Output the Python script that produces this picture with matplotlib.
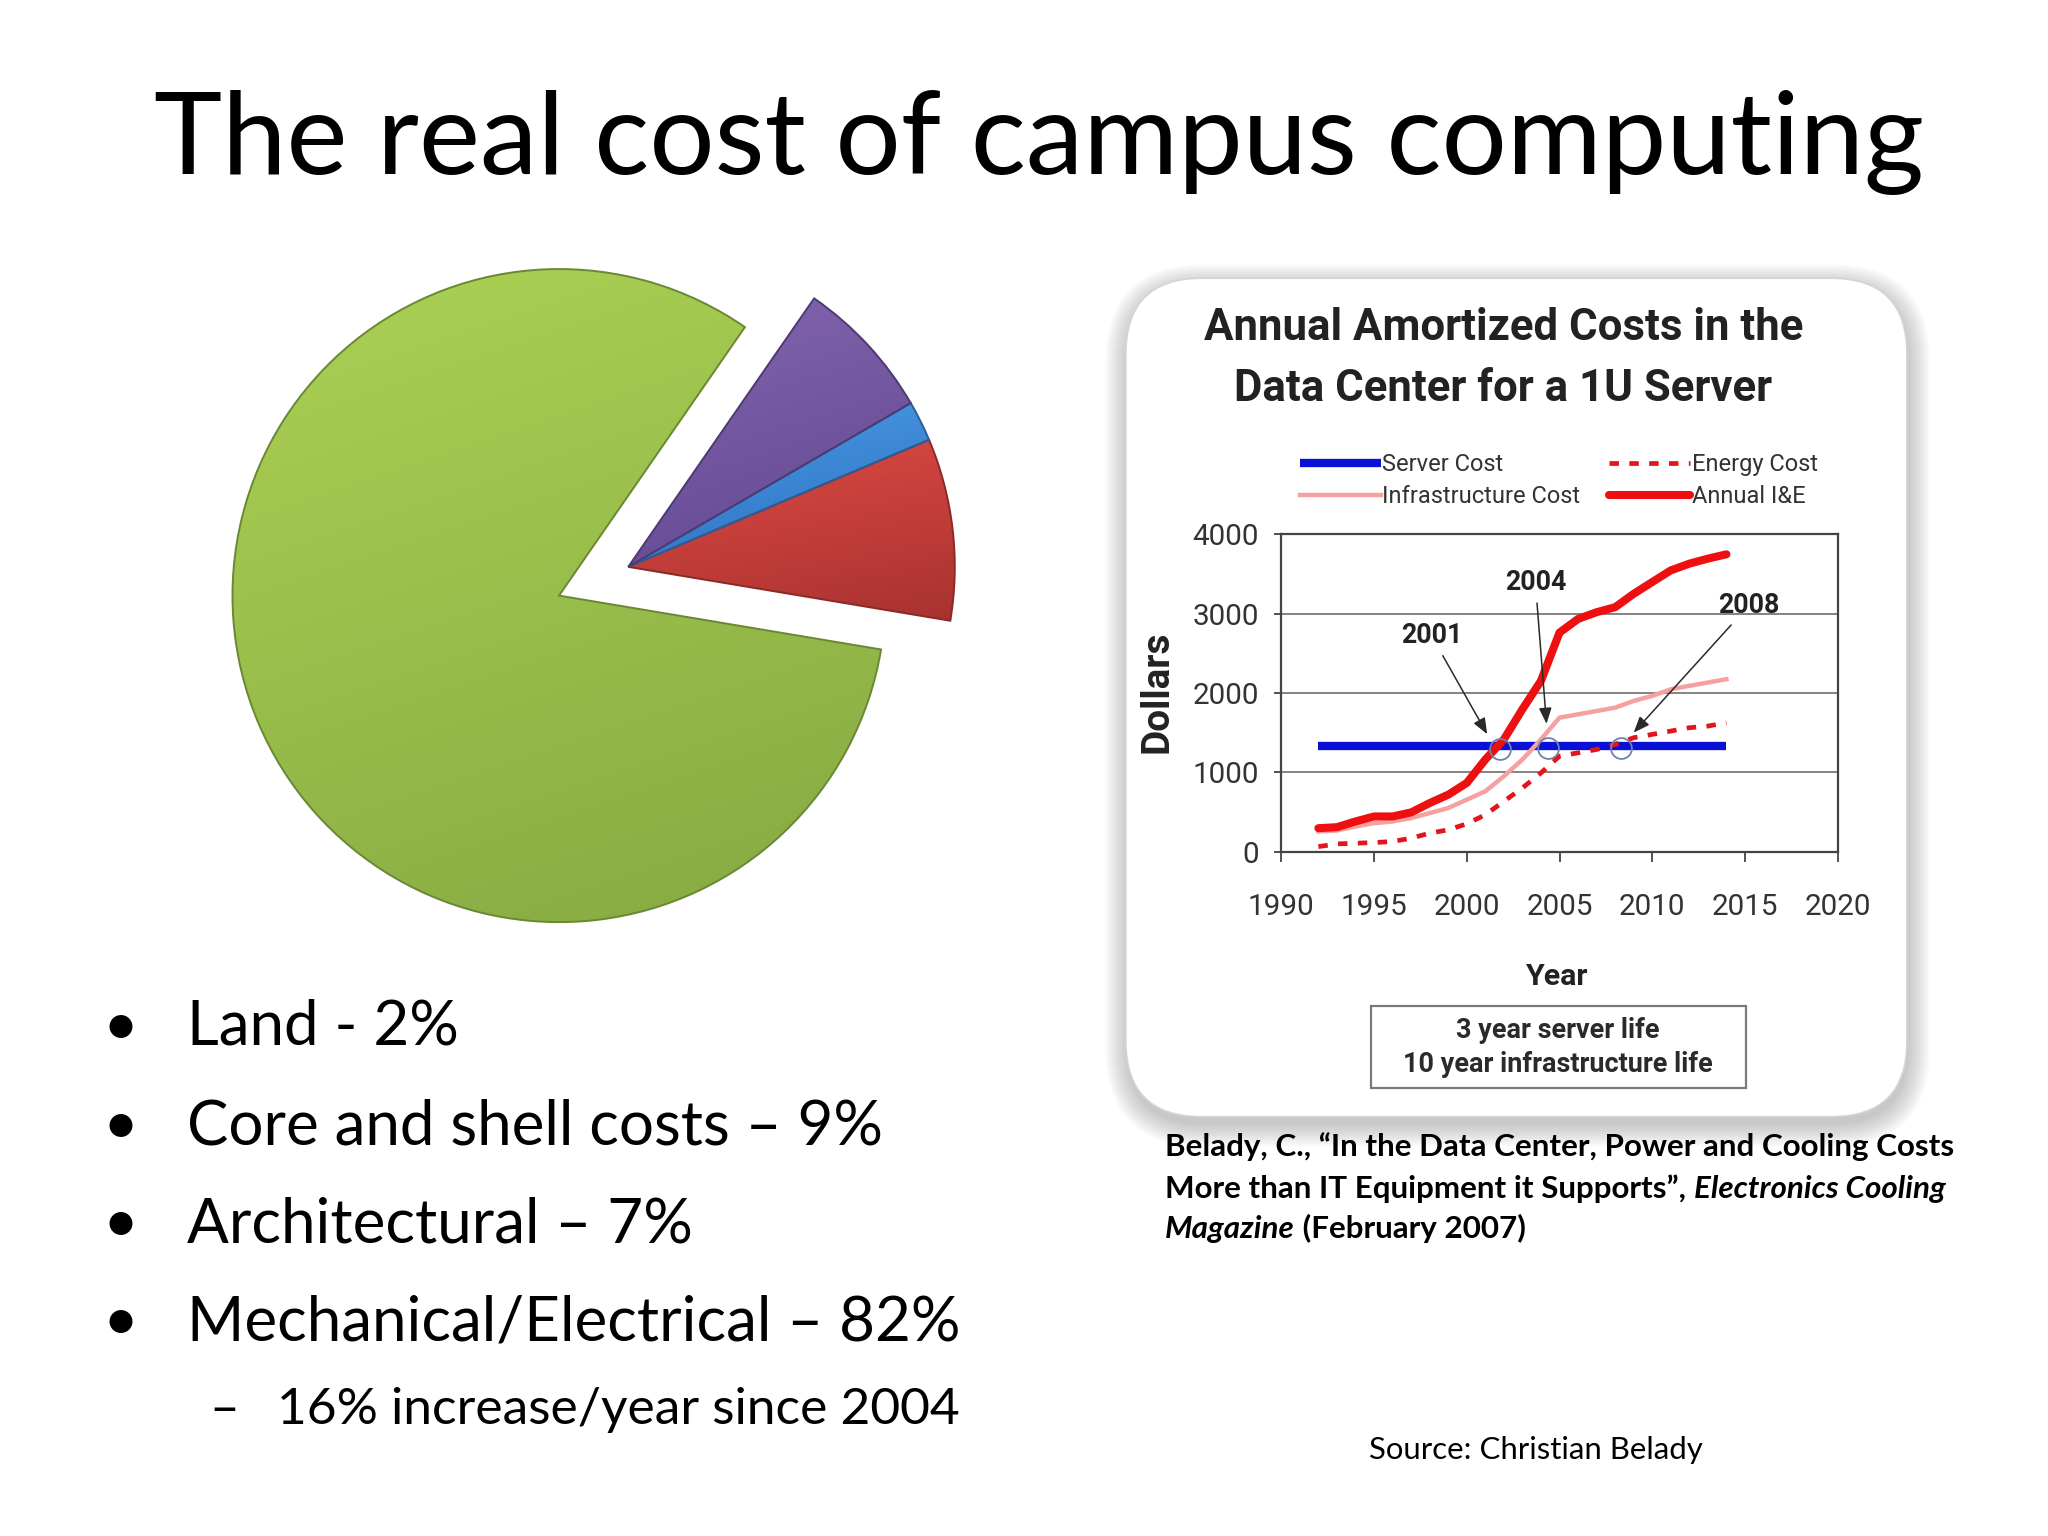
import numpy as np
import matplotlib
matplotlib.use("Agg")
import matplotlib.pyplot as plt
from matplotlib import font_manager
from matplotlib.patches import FancyBboxPatch, Rectangle
from matplotlib.colors import LinearSegmentedColormap

# ---------------- data ----------------
slide_title = "The real cost of campus computing"

pie_labels = ["Core and shell costs", "Land", "Architectural", "Mechanical/Electrical"]
pie_shares = [9, 2, 7, 82]
pie_top_colors = ["#DE4A44", "#4A9AE6", "#8466B0", "#ABD254"]
pie_bottom_colors = ["#A83230", "#2C70C0", "#624690", "#86A942"]
pie_edge_colors = ["#8A2A26", "#2A5E9A", "#4C3A70", "#6A8834"]

bullets = ["Land - 2%", "Core and shell costs \u2013 9%", "Architectural \u2013 7%",
           "Mechanical/Electrical \u2013 82%"]
sub_bullet = "16% increase/year since 2004"

chart_title = ["Annual Amortized Costs in the", "Data Center for a 1U Server"]
series_labels = ["Server Cost", "Infrastructure Cost", "Energy Cost", "Annual I&E"]

years = [1992, 1993, 1994, 1995, 1996, 1997, 1998, 1999, 2000, 2001, 2002, 2003,
         2004, 2005, 2006, 2007, 2008, 2009, 2010, 2011, 2012, 2013, 2014]
server_cost = [1330, 1330, 1330, 1330, 1330, 1330, 1330, 1330, 1330, 1330, 1330, 1330,
               1330, 1330, 1330, 1330, 1330, 1330, 1330, 1330, 1330, 1330, 1330]
infrastructure_cost = [253, 266, 316, 358, 380, 422, 485, 549, 654, 760, 950, 1160,
                       1414, 1688, 1730, 1772, 1814, 1899, 1962, 2046, 2089, 2131, 2173]
energy_cost = [63, 97, 105, 114, 127, 169, 232, 274, 350, 464, 633, 802,
               992, 1203, 1245, 1287, 1350, 1435, 1477, 1519, 1561, 1582, 1624]
annual_ie = [295, 308, 380, 443, 443, 494, 612, 717, 865, 1160, 1414, 1794,
             2152, 2760, 2932, 3017, 3080, 3249, 3397, 3544, 3629, 3692, 3747]

cross_years = [2001.8, 2004.4, 2008.3]
cross_values = [1290, 1300, 1300]

annot_labels = ["2001", "2004", "2008"]
annot_text_xy = [(1998.1, 2720), (2003.7, 3390), (2015.2, 3100)]
annot_target_xy = [(2001.1, 1480), (2004.3, 1610), (2009.0, 1500)]

x_ticks = [1990, 1995, 2000, 2005, 2010, 2015, 2020]
y_ticks = [0, 1000, 2000, 3000, 4000]

note_lines = ["3 year server life", "10 year infrastructure life"]

cite_line1 = "Belady, C., \u201cIn the Data Center, Power and Cooling Costs"
cite_line2a = "More than IT Equipment it Supports\u201d, "
cite_line2b = "Electronics Cooling"
cite_line3a = "Magazine"
cite_line3b = " (February 2007)"
source_text = "Source: Christian Belady"

# ---------------- fonts ----------------
avail = {f.name for f in font_manager.fontManager.ttflist}
BODY = "Lato" if "Lato" in avail else ("Open Sans" if "Open Sans" in avail else "DejaVu Sans")
if "Liberation Sans Narrow" in avail:
    NARROW = "Liberation Sans Narrow"
elif "Roboto" in avail:
    NARROW = "Roboto"
else:
    NARROW = "DejaVu Sans"

S = 2048 / 1568.0  # reference display units -> output pixels

fig = plt.figure(figsize=(20.48, 15.36), dpi=100)
fig.patch.set_facecolor("white")
renderer = fig.canvas.get_renderer()


def fit_size(s, width_disp, **kw):
    t = fig.text(0, 0, s, fontsize=100, **kw)
    w = t.get_window_extent(renderer=renderer).width
    t.remove()
    return 100.0 * width_disp * S / w


def width_disp(s, **kw):
    t = fig.text(0, 0, s, **kw)
    w = t.get_window_extent(renderer=renderer).width
    t.remove()
    return w / S


# ---------------- background axes (display coordinates) ----------------
bg = fig.add_axes([0, 0, 1, 1], zorder=0)
bg.set_xlim(0, 1568)
bg.set_ylim(1176, 0)
bg.axis("off")

# slide title
fs_title = fit_size(slide_title, 1355, family=BODY)
bg.text(118, 133, slide_title, fontsize=fs_title, family=BODY, ha="left", va="baseline",
        color="black")

# bullets
fs_b = fit_size(bullets[3], 592, family=BODY)
for txt, yb in zip(bullets, [800, 876, 951, 1026]):
    bg.text(143, yb, txt, fontsize=fs_b, family=BODY, ha="left", va="baseline")
    bg.text(92, yb, "\u2022", fontsize=fs_b, family=BODY, ha="center", va="baseline")
fs_sub = fit_size(sub_bullet, 523, family=BODY)
bg.text(212, 1090, sub_bullet, fontsize=fs_sub, family=BODY, ha="left", va="baseline")
bg.text(172, 1090, "\u2013", fontsize=fs_sub, family=BODY, ha="center", va="baseline")

# citation
fs_c = fit_size(cite_line1, 605, family=BODY, weight="bold")
bkw = dict(fontsize=fs_c, family=BODY, weight="bold", ha="left", va="baseline")
ikw = dict(fontsize=fs_c, family=BODY, weight="bold", style="italic", ha="left", va="baseline")
bg.text(892, 885, cite_line1, **bkw)
bg.text(892, 917, cite_line2a, **bkw)
w2 = width_disp(cite_line2a, fontsize=fs_c, family=BODY, weight="bold")
bg.text(892 + w2, 917, cite_line2b, **ikw)
bg.text(892, 948, cite_line3a, **ikw)
w3 = width_disp(cite_line3a, fontsize=fs_c, family=BODY, weight="bold", style="italic")
bg.text(892 + w3, 948, cite_line3b, **bkw)

fs_src = fit_size(source_text, 255, family=BODY)
bg.text(1048, 1117, source_text, fontsize=fs_src, family=BODY, ha="left", va="baseline")

# chart panel with soft shadow
for i in range(12):
    p = i * 1.5
    bg.add_patch(FancyBboxPatch((862 - p + 1, 213 - p + 6), 598 + 2 * p, 642 + 2 * p,
                                boxstyle="round,pad=0,rounding_size=%g" % (58 + p),
                                fc="#707070", ec="none", alpha=0.035, zorder=1))
bg.add_patch(FancyBboxPatch((862, 213), 598, 642, boxstyle="round,pad=0,rounding_size=58",
                            fc="white", ec="#d4d4d4", lw=1.2, zorder=2))

# chart title
fs_ct = fit_size(chart_title[0], 459, family=NARROW, weight="bold")
bg.text(1151, 260, chart_title[0], fontsize=fs_ct, family=NARROW, weight="bold",
        ha="center", va="baseline", color="#222222", zorder=3)
bg.text(1151, 307, chart_title[1], fontsize=fs_ct, family=NARROW, weight="bold",
        ha="center", va="baseline", color="#222222", zorder=3)

# notes box
bg.add_patch(Rectangle((1050, 770), 287, 63, fc="white", ec="#7a7a7a", lw=1.6, zorder=3))
fs_note = fit_size(note_lines[1], 237, family=NARROW, weight="bold")
bg.text(1193, 789, note_lines[0], fontsize=fs_note, family=NARROW, weight="bold",
        ha="center", va="center", color="#2a2a2a", zorder=4)
bg.text(1193, 815, note_lines[1], fontsize=fs_note, family=NARROW, weight="bold",
        ha="center", va="center", color="#2a2a2a", zorder=4)

# ---------------- pie ----------------
axp = fig.add_axes([0, 0, 1, 1], zorder=1)
pc = (428, 1176 - 456)
wedges, _ = axp.pie(pie_shares, startangle=-9.5, counterclock=True, center=pc, radius=250,
                    colors=pie_top_colors, wedgeprops=dict(lw=1.4))
for w in wedges[:3]:
    w.set_center((pc[0] + 53, pc[1] + 22))
yy, xx = np.mgrid[0:1:200j, 0:1:200j]
grad = 0.75 * yy + 0.25 * xx
for w, ct, cb, ce in zip(wedges, pie_top_colors, pie_bottom_colors, pie_edge_colors):
    ext = w.get_path().get_extents()
    cmap = LinearSegmentedColormap.from_list("g", [ct, cb])
    im = axp.imshow(grad, extent=[ext.x0, ext.x1, ext.y0, ext.y1], origin="upper",
                    cmap=cmap, aspect="auto", zorder=2, interpolation="bilinear")
    im.set_clip_path(w)
    w.set_facecolor("none")
    w.set_edgecolor(ce)
    w.set_zorder(3)
axp.set_xlim(0, 1568)
axp.set_ylim(0, 1176)
axp.set_aspect("auto")
axp.axis("off")

# ---------------- line chart ----------------
ax = fig.add_axes([981 / 1568, 1 - 652 / 1176, 426 / 1568, 243 / 1176], zorder=3)
ax.set_facecolor("none")
l_server, = ax.plot(years, server_cost, color="#0A10D6", lw=6, solid_capstyle="butt",
                    label=series_labels[0], zorder=2)
l_energy, = ax.plot(years, energy_cost, color="#E3141B", lw=3.4, dashes=(2.0, 2.2),
                    label=series_labels[2], zorder=3)
l_infra, = ax.plot(years, infrastructure_cost, color="#F6A0A0", lw=3.2,
                   label=series_labels[1], zorder=4)
l_ie, = ax.plot(years, annual_ie, color="#EE1010", lw=5.8, solid_joinstyle="round",
                solid_capstyle="round", label=series_labels[3], zorder=5)
ax.plot(cross_years, cross_values, "o", mfc="none", mec="#6C84A6", ms=15, mew=1.3, zorder=6)

ax.set_xlim(1990, 2020)
ax.set_ylim(0, 4000)
ax.set_xticks(x_ticks)
ax.set_yticks(y_ticks)
ax.yaxis.grid(True, color="#7a7a7a", lw=1.3)
ax.set_axisbelow(True)
for sp in ax.spines.values():
    sp.set_color("#444444")
    sp.set_linewidth(1.6)

fs_tick = fit_size("1990", 51, family=NARROW)
ax.tick_params(axis="x", direction="out", length=7, width=1.3, color="#444444", pad=23,
               labelsize=fs_tick, labelcolor="#333333")
ax.tick_params(axis="y", direction="out", length=5, width=1.3, color="#444444", pad=11,
               labelsize=fs_tick, labelcolor="#333333")
for lab in ax.get_xticklabels() + ax.get_yticklabels():
    lab.set_family(NARROW)

fs_year = fit_size("Year", 48, family=NARROW, weight="bold")
ax.set_xlabel("Year", fontsize=fs_year, family=NARROW, weight="bold", color="#222222")
ax.xaxis.set_label_coords((1192 - 981) / 426, (652 - 748) / 243)
ax.xaxis.label.set_va("center")
fs_dol = fit_size("Dollars", 94, family=NARROW, weight="bold")
ax.set_ylabel("Dollars", fontsize=fs_dol, family=NARROW, weight="bold", color="#222222")
ax.yaxis.set_label_coords((886 - 981) / 426, (652 - 530) / 243)
ax.yaxis.label.set_va("center")

fs_ann = fit_size("2001", 47, family=NARROW, weight="bold")
for lab, txy, pxy in zip(annot_labels, annot_text_xy, annot_target_xy):
    ax.annotate(lab, xy=pxy, xytext=txy, textcoords="data", ha="center", va="center",
                fontsize=fs_ann, family=NARROW, weight="bold", color="#222222",
                arrowprops=dict(arrowstyle="-|>,head_length=0.5,head_width=0.2",
                                color="#2a2a2a", lw=1.1, shrinkA=3, shrinkB=0),
                zorder=7, annotation_clip=False)

# legend
fs_leg = fit_size("Infrastructure Cost", 151, family=NARROW)
fs_px = fs_leg * 100 / 72.0
t = fig.text(0, 0, "Infrastructure Cost", fontsize=fs_leg, family=NARROW)
h_px = t.get_window_extent(renderer=renderer).height
t.remove()
top_disp = 356 - 0.5 * h_px / S
leg = ax.legend(handles=[l_server, l_infra, l_energy, l_ie], ncol=2, frameon=False,
                loc="upper left", bbox_to_anchor=(995 / 1568, 1 - top_disp / 1176),
                bbox_transform=fig.transFigure, borderpad=0, borderaxespad=0,
                handlelength=62 * S / fs_px, handletextpad=0.08,
                columnspacing=22 * S / fs_px,
                labelspacing=max(0.0, (24 * S - h_px) / fs_px),
                prop=dict(family=NARROW, size=fs_leg))
for txt in leg.get_texts():
    txt.set_color("#333333")

fig.savefig("out.png", dpi=100, facecolor="white")
